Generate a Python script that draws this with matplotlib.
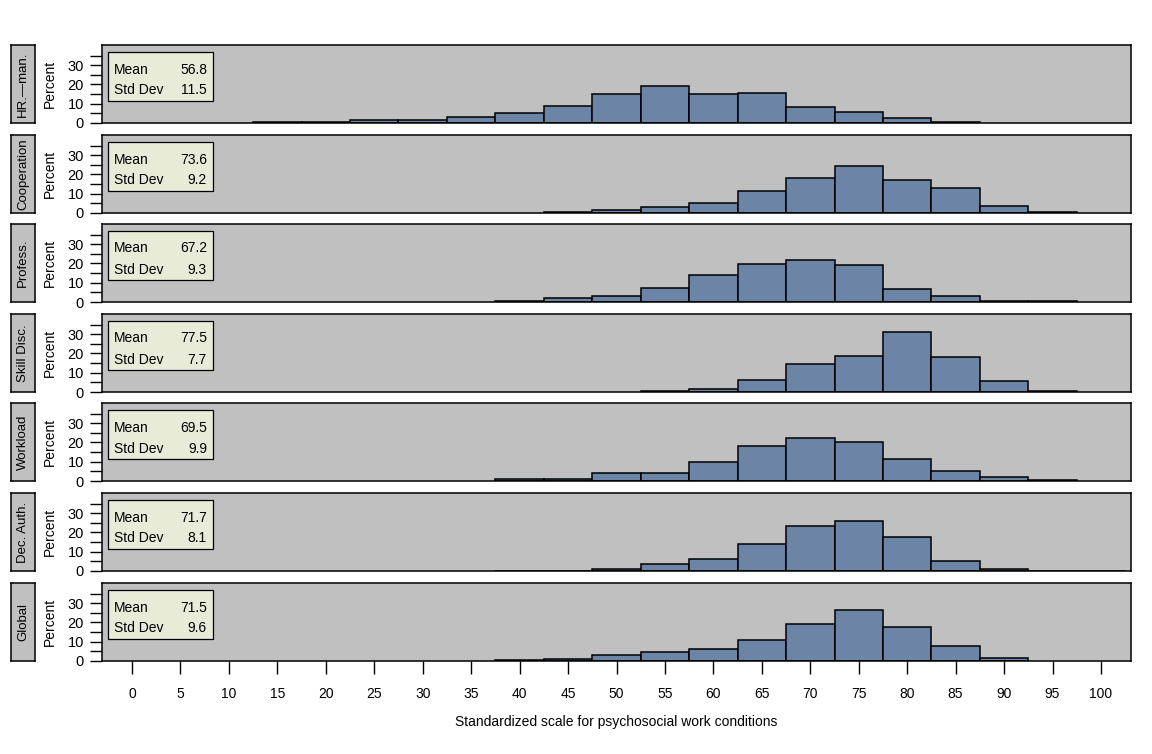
import matplotlib
matplotlib.use("Agg")
import matplotlib.pyplot as plt
from matplotlib.patches import Rectangle

plt.rcParams['font.family'] = ['Liberation Sans', 'DejaVu Sans']

# ---- data ----
panel_labels = ["HR.\u2014man.", "Cooperation", "Profess.", "Skill Disc.", "Workload", "Dec. Auth.", "Global"]
means = ["56.8", "73.6", "67.2", "77.5", "69.5", "71.7", "71.5"]
stds = ["11.5", "9.2", "9.3", "7.7", "9.9", "8.1", "9.6"]

hr_mid = [15, 20, 25, 30, 35, 40, 45, 50, 55, 60, 65, 70, 75, 80, 85]
hr_pct = [0.3, 0.3, 1.4, 1.4, 3.0, 5.3, 8.8, 15.1, 19.3, 15.1, 15.8, 8.2, 5.6, 2.8, 0.3]

coop_mid = [45, 50, 55, 60, 65, 70, 75, 80, 85, 90, 95]
coop_pct = [0.5, 1.4, 3.0, 5.3, 11.6, 18.2, 24.2, 17.2, 13.0, 3.5, 0.5]

prof_mid = [40, 45, 50, 55, 60, 65, 70, 75, 80, 85, 90, 95]
prof_pct = [0.3, 2.3, 3.3, 7.5, 13.9, 19.6, 21.8, 19.1, 6.5, 3.3, 0.3, 0.3]

skill_mid = [55, 60, 65, 70, 75, 80, 85, 90, 95]
skill_pct = [0.4, 1.4, 6.1, 14.6, 18.9, 30.9, 18.2, 5.6, 0.4]

work_mid = [40, 45, 50, 55, 60, 65, 70, 75, 80, 85, 90, 95]
work_pct = [0.9, 0.9, 4.2, 4.2, 10.0, 18.2, 22.5, 20.4, 11.4, 5.1, 1.9, 0.4]

dec_mid = [40, 45, 50, 55, 60, 65, 70, 75, 80, 85, 90, 95, 100]
dec_pct = [0.2, 0.2, 1.1, 3.7, 6.3, 14.2, 23.2, 25.8, 17.4, 5.3, 1.1, 0.2, 0.2]

glob_mid = [40, 45, 50, 55, 60, 65, 70, 75, 80, 85, 90]
glob_pct = [0.35, 0.9, 3.0, 4.6, 6.1, 10.9, 19.3, 26.7, 17.7, 7.7, 1.4]

mids = [hr_mid, coop_mid, prof_mid, skill_mid, work_mid, dec_mid, glob_mid]
pcts = [hr_pct, coop_pct, prof_pct, skill_pct, work_pct, dec_pct, glob_pct]

x_ticks = list(range(0, 101, 5))
y_major = [0, 10, 20, 30]
y_minor = [5, 15, 25, 35]

# ---- layout ----
W, H = 1152, 754
fig = plt.figure(figsize=(W / 100, H / 100), dpi=100)
fig.patch.set_facecolor("white")

tops = [45, 135, 224, 314, 403, 493, 583]
ph = 78
left, right = 102, 1131
bar_color = "#6c85a6"
bg = "#c0c0c0"
fs = 10

for i in range(7):
    t = tops[i]
    ax = fig.add_axes([left / W, 1 - (t + ph) / H, (right - left) / W, ph / H])
    ax.set_facecolor(bg)
    ax.bar(mids[i], pcts[i], width=5, color=bar_color, edgecolor="black", linewidth=1.1, zorder=2)
    ax.set_xlim(-3.1, 103.1)
    ax.set_ylim(0, 40.5)
    ax.set_yticks(y_major)
    ax.set_yticks(y_minor, minor=True)
    ax.tick_params(axis="y", which="both", direction="out", length=9, width=1, labelsize=10.5, pad=4)
    ax.set_ylabel("Percent", fontsize=fs, labelpad=8)
    ax.set_xticks(x_ticks)
    if i == 6:
        ax.tick_params(axis="x", direction="out", length=9, width=1, labelsize=fs, pad=10)
        ax.set_xlabel("Standardized scale for psychosocial work conditions", fontsize=fs, labelpad=10)
    else:
        ax.tick_params(axis="x", length=0, labelbottom=False)
    for s in ax.spines.values():
        s.set_linewidth(1.1)

    # inset stats box
    bx0 = (108 - left) / (right - left)
    bw = 105 / (right - left)
    by0 = 1 - 56 / ph
    bh = 49 / ph
    ax.add_patch(Rectangle((bx0, by0), bw, bh, transform=ax.transAxes,
                           facecolor="#e9ebd9", edgecolor="black", linewidth=0.9, zorder=3))
    xt = (114 - left) / (right - left)
    xv = (207 - left) / (right - left)
    y1 = 1 - 24.5 / ph
    y2 = 1 - 45.5 / ph
    ax.text(xt, y1, "Mean", transform=ax.transAxes, fontsize=fs, va="center", ha="left", zorder=4)
    ax.text(xv, y1, means[i], transform=ax.transAxes, fontsize=fs, va="center", ha="right", zorder=4)
    ax.text(xt, y2, "Std Dev", transform=ax.transAxes, fontsize=fs, va="center", ha="left", zorder=4)
    ax.text(xv, y2, stds[i], transform=ax.transAxes, fontsize=fs, va="center", ha="right", zorder=4)

    # strip label box on the left
    sax = fig.add_axes([11 / W, 1 - (t + ph) / H, 24 / W, ph / H])
    sax.set_facecolor(bg)
    sax.set_xticks([])
    sax.set_yticks([])
    for s in sax.spines.values():
        s.set_linewidth(1.1)
    sax.text(0.5, 0.5, panel_labels[i], rotation=90, ha="center", va="center",
             fontsize=9.5, transform=sax.transAxes)

fig.savefig("out.png", dpi=100)
